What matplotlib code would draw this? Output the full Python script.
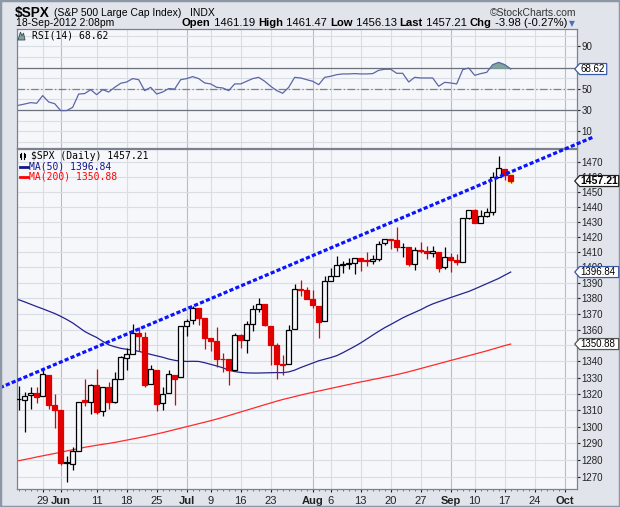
import numpy as np
import pandas as pd
import matplotlib
matplotlib.use('Agg')
import matplotlib.pyplot as plt
from matplotlib.patches import Polygon, Rectangle
from matplotlib.lines import Line2D
from matplotlib.transforms import IdentityTransform
from matplotlib.ticker import NullLocator

plt.rcParams['font.family'] = ['Liberation Sans', 'DejaVu Sans']

W, H = 620, 507

# trading days May 22 - Sep 18 2012 (83 bars), axis runs on to Oct 1
holidays = ['2012-05-28', '2012-07-04', '2012-09-03']
days = pd.bdate_range('2012-05-22', '2012-10-01')
days = days[~days.isin(pd.to_datetime(holidays))]

opens = [1317.0, 1316.0, 1319.1, 1320.8, 1318.9, 1331.3, 1313.1, 1309.9, 1278.3, 1277.8,
         1285.6, 1316.2, 1315.0, 1325.7, 1309.4, 1324.0, 1314.9, 1329.2, 1342.4, 1344.8,
         1358.0, 1355.4, 1325.9, 1334.9, 1314.1, 1320.7, 1331.5, 1330.1, 1362.3, 1365.8,
         1373.7, 1367.1, 1354.7, 1353.0, 1341.4, 1341.3, 1334.8, 1356.5, 1353.7, 1363.6,
         1373.0, 1376.5, 1362.3, 1350.5, 1338.4, 1338.2, 1360.1, 1385.9, 1385.3, 1379.3,
         1375.1, 1365.5, 1391.0, 1394.5, 1401.2, 1402.3, 1402.6, 1405.9, 1404.4, 1403.9,
         1405.6, 1415.8, 1417.9, 1418.1, 1413.1, 1413.5, 1402.0, 1411.1, 1410.4, 1409.3,
         1410.1, 1400.1, 1406.5, 1404.9, 1403.7, 1432.1, 1437.9, 1429.1, 1433.6, 1436.6,
         1460.1, 1465.4, 1461.2]
highs = [1324.5, 1321.0, 1324.1, 1324.2, 1334.9, 1331.3, 1319.7, 1309.9, 1282.6, 1287.6,
         1315.1, 1329.1, 1325.8, 1335.5, 1324.3, 1327.3, 1333.7, 1343.3, 1348.2, 1363.5,
         1361.6, 1358.3, 1337.8, 1334.9, 1324.2, 1334.4, 1331.5, 1362.2, 1366.4, 1374.8,
         1373.9, 1367.1, 1354.9, 1361.5, 1345.0, 1341.3, 1357.7, 1357.3, 1365.4, 1375.3,
         1380.4, 1376.5, 1362.3, 1351.5, 1344.0, 1363.1, 1389.2, 1391.7, 1387.2, 1385.0,
         1375.1, 1394.2, 1399.6, 1407.1, 1404.1, 1406.0, 1406.0, 1405.9, 1410.0, 1407.7,
         1417.4, 1418.7, 1418.1, 1426.7, 1416.1, 1413.5, 1413.5, 1416.2, 1413.6, 1414.0,
         1410.1, 1413.1, 1409.3, 1408.8, 1432.1, 1437.9, 1438.7, 1437.8, 1439.2, 1463.5,
         1474.5, 1465.6, 1461.5]
lows = [1310.0, 1296.5, 1310.5, 1314.2, 1318.9, 1310.8, 1298.9, 1277.3, 1266.7, 1274.2,
        1285.6, 1312.7, 1307.8, 1307.7, 1306.6, 1310.5, 1314.1, 1329.2, 1334.5, 1344.8,
        1346.5, 1324.4, 1325.9, 1309.3, 1310.3, 1320.7, 1313.3, 1330.1, 1355.7, 1363.5,
        1363.0, 1348.0, 1346.7, 1336.3, 1333.3, 1325.4, 1334.8, 1348.5, 1345.1, 1359.0,
        1371.2, 1362.2, 1337.6, 1329.2, 1331.5, 1338.2, 1360.1, 1381.4, 1379.2, 1373.4,
        1354.7, 1365.5, 1391.0, 1394.5, 1396.1, 1398.8, 1395.6, 1397.3, 1400.6, 1401.8,
        1404.2, 1414.7, 1412.1, 1410.9, 1406.8, 1400.5, 1398.0, 1409.1, 1405.6, 1406.6,
        1397.0, 1399.0, 1396.6, 1401.3, 1403.7, 1431.5, 1429.0, 1429.1, 1433.0, 1434.6,
        1460.1, 1457.6, 1456.1]
closes = [1316.6, 1318.9, 1320.7, 1317.8, 1332.4, 1313.3, 1310.3, 1278.0, 1278.2, 1285.5,
          1315.1, 1315.0, 1325.7, 1308.9, 1324.2, 1314.9, 1329.1, 1342.8, 1344.8, 1358.0,
          1355.7, 1325.5, 1335.0, 1313.7, 1320.0, 1331.9, 1329.0, 1362.2, 1365.5, 1374.0,
          1367.6, 1354.7, 1352.5, 1341.5, 1341.4, 1334.8, 1356.8, 1353.6, 1363.7, 1372.8,
          1376.5, 1362.7, 1350.5, 1338.3, 1337.9, 1360.0, 1386.0, 1385.3, 1379.3, 1375.3,
          1365.0, 1391.0, 1394.2, 1401.4, 1402.2, 1402.8, 1405.9, 1404.1, 1403.9, 1405.5,
          1415.5, 1418.2, 1418.1, 1413.2, 1413.5, 1402.1, 1411.1, 1410.4, 1409.3, 1410.5,
          1399.5, 1406.6, 1404.9, 1403.4, 1432.1, 1437.9, 1429.1, 1433.6, 1436.6, 1460.0,
          1465.8, 1461.2, 1457.2]

ma50 = [1379.0, 1377.6, 1376.1, 1374.6, 1373.2, 1371.7, 1370.2, 1368.4, 1366.4, 1364.2,
        1361.5, 1358.8, 1356.8, 1355.0, 1352.6, 1350.4, 1349.2, 1348.2, 1347.6, 1347.1,
        1346.3, 1345.4, 1344.4, 1343.5, 1342.6, 1341.5, 1340.7, 1340.2, 1340.0, 1340.1,
        1340.0, 1339.2, 1338.2, 1337.2, 1336.1, 1334.6, 1333.7, 1333.2, 1332.9, 1332.8,
        1332.8, 1332.9, 1333.0, 1333.1, 1333.0, 1333.5, 1334.6, 1336.2, 1337.6, 1339.0,
        1340.4, 1341.4, 1342.4, 1343.6, 1345.4, 1347.4, 1349.4, 1351.6, 1354.0, 1356.5,
        1358.9, 1361.2, 1363.2, 1365.3, 1367.4, 1369.2, 1370.9, 1372.6, 1374.6, 1376.3,
        1377.7, 1379.0, 1380.4, 1381.7, 1383.0, 1384.3, 1385.9, 1387.6, 1389.3, 1391.0,
        1392.7, 1394.8, 1396.84]
ma200 = [1279.6, 1280.3, 1281.0, 1281.8, 1282.5, 1283.2, 1283.9, 1284.6, 1285.4, 1286.1,
         1286.8, 1287.6, 1288.2, 1288.8, 1289.4, 1289.9, 1290.5, 1291.2, 1291.9, 1292.6,
         1293.3, 1294.0, 1294.8, 1295.6, 1296.4, 1297.3, 1298.2, 1299.1, 1300.0, 1300.9,
         1301.8, 1302.7, 1303.6, 1304.6, 1305.6, 1306.7, 1307.8, 1308.9, 1310.0, 1311.1,
         1312.2, 1313.3, 1314.4, 1315.5, 1316.5, 1317.4, 1318.3, 1319.2, 1320.1, 1320.9,
         1321.7, 1322.5, 1323.3, 1324.1, 1324.9, 1325.7, 1326.5, 1327.3, 1328.0, 1328.8,
         1329.5, 1330.3, 1331.0, 1331.8, 1332.7, 1333.6, 1334.6, 1335.6, 1336.6, 1337.6,
         1338.6, 1339.6, 1340.6, 1341.6, 1342.6, 1343.6, 1344.6, 1345.6, 1346.6, 1347.7,
         1348.8, 1349.9, 1350.88]
rsi = [34.5, 35.7, 37.0, 36.4, 43.6, 37.6, 36.0, 29.5, 29.5, 32.6,
       45.1, 45.5, 49.2, 44.5, 49.2, 47.0, 51.4, 55.2, 56.4, 59.6,
       58.6, 48.3, 51.4, 45.1, 47.0, 50.2, 49.8, 58.6, 59.6, 61.5,
       59.6, 55.5, 54.6, 51.4, 50.8, 48.3, 54.6, 54.6, 57.1, 59.6,
       60.8, 57.1, 52.4, 48.3, 45.8, 51.4, 60.8, 60.2, 58.6, 57.1,
       53.9, 60.8, 61.8, 63.3, 64.0, 64.0, 64.3, 64.0, 64.0, 64.3,
       67.4, 68.4, 68.4, 64.6, 64.6, 56.4, 60.8, 60.2, 60.2, 60.2,
       52.4, 56.1, 55.5, 54.6, 68.0, 69.6, 62.7, 64.3, 65.5, 72.7,
       74.9, 72.7, 68.62]

tick_dates = ['2012-05-29', '2012-06-01', '2012-06-11', '2012-06-18', '2012-06-25',
              '2012-07-02', '2012-07-09', '2012-07-16', '2012-07-23', '2012-08-01',
              '2012-08-06', '2012-08-13', '2012-08-20', '2012-08-27', '2012-09-04',
              '2012-09-10', '2012-09-17', '2012-09-24', '2012-10-01']
tick_labels = ['29', 'Jun', '11', '18', '25', 'Jul', '9', '16', '23', 'Aug',
               '6', '13', '20', '27', 'Sep', '10', '17', '24', 'Oct']
price_ticks = list(range(1270, 1480, 10))
rsi_ticks = [10, 30, 50, 70, 90]
# labels sitting fully under a price tag are not drawn
hidden_labels = [70, 1350]

RED = '#e00000'
BG = '#f6f7fb'
GRID = '#d9dde4'
GRID_M = '#b7bcc6'

n = len(closes)
x = np.arange(n)
tick_pos = [days.get_loc(pd.Timestamp(d)) for d in tick_dates]
months = [lab.isalpha() for lab in tick_labels]

fig = plt.figure(figsize=(W / 100, H / 100), dpi=100, facecolor='#e1e5eb')
ax_r = fig.add_axes([16.7 / W, 1 - 148 / H, 560 / W, (148 - 29.3) / H], facecolor=BG)
ax = fig.add_axes([16.7 / W, 1 - 489.3 / H, 560 / W, (489.3 - 149) / H], facecolor=BG)

xlim = (-0.33, 93.0)
for a in (ax_r, ax):
    a.set_xlim(*xlim)
    for s in a.spines.values():
        s.set_color('#7b828d')
        s.set_linewidth(0.9)
    for p, m in zip(tick_pos, months):
        a.axvline(p, color=GRID_M if m else GRID, lw=0.8, zorder=0)

# ---- RSI panel
ax_r.set_ylim(-5.7, 106)
for v in range(0, 101, 10):
    ax_r.axhline(v, color=GRID, lw=0.8, zorder=0)
ax_r.axhline(70, color='#6c727c', lw=0.9, zorder=1)
ax_r.axhline(30, color='#6c727c', lw=0.9, zorder=1)
ax_r.axhline(50, color='#7c818a', lw=0.9, ls=(0, (6, 2, 1, 2)), zorder=1)
rsi_a = np.array(rsi)
ax_r.fill_between(x, rsi_a, 70, where=rsi_a > 70, interpolate=True, color='#7fa59c', zorder=2)
ax_r.plot(x, rsi_a, color='#5b66a6', lw=0.9, zorder=3)
ax_r.set_xticks([])
ax_r.yaxis.tick_right()
ax_r.set_yticks(rsi_ticks, labels=['' if v in hidden_labels else str(v) for v in rsi_ticks])
ax_r.tick_params(axis='y', length=2.4, pad=1.2, labelsize=7, colors='#222222')

# ---- price panel
ax.set_yscale('log')
ax.set_ylim(1262.7, 1479.05)
for v in price_ticks:
    ax.axhline(v, color=GRID, lw=0.8, zorder=0)
ax.yaxis.tick_right()
ax.set_yticks(price_ticks, labels=['' if v in hidden_labels else str(v) for v in price_ticks])
ax.yaxis.set_minor_locator(NullLocator())
ax.tick_params(axis='y', length=2.4, pad=1.2, labelsize=7, colors='#222222')

ax.set_xticks(tick_pos, labels=tick_labels)
ax.set_xticks(np.arange(len(days)), minor=True)
ax.tick_params(axis='x', which='major', length=2.5, pad=2, labelsize=8, colors='#222222')
ax.tick_params(axis='x', which='minor', length=1.5, colors='#666666')
for lab, m in zip(ax.get_xticklabels(), months):
    if m:
        lab.set_fontweight('bold')

ax.plot(x, ma200, color='#ff2a2a', lw=0.9, zorder=2)
ax.plot(x, ma50, color='#23238c', lw=0.9, zorder=2)

# highlight on the latest bar
ax.add_patch(Rectangle((x[-1] - 0.55, lows[-1] - 1.0), 1.1, highs[-1] - lows[-1] + 2.0,
                       facecolor='#ffff70', edgecolor='none', zorder=2))

bw = 0.75
for i in range(n):
    o, h, l, c = opens[i], highs[i], lows[i], closes[i]
    prev = closes[i - 1] if i > 0 else c
    col = RED if c < prev else 'black'
    ax.vlines(x[i], l, h, color=col, lw=0.9, zorder=3)
    lo, hi = min(o, c), max(o, c)
    if hi - lo < 0.35:
        hi = lo + 0.35
    face = col if c < o else BG
    ax.add_patch(Rectangle((x[i] - bw / 2, lo), bw, hi - lo, facecolor=face,
                           edgecolor=col, lw=0.9, zorder=4))

# trend line through the May 29 and Jul 3 highs
a0, a1 = 4, 29
slope = np.log(highs[a1] / highs[a0]) / (a1 - a0)
tx = np.array([-3.12, 95.77])
ty = highs[a0] * np.exp(slope * (tx - a0))
ax.plot(tx, ty, color='#0a14ff', lw=2.3, ls=(0, (1.3, 0.7)), clip_on=False, zorder=6)


# ---- price tags on the right axis
def tag(a, value, text, edge, bold=False, size=7, width=44):
    yd = a.transData.transform((0, value))[1]
    x0 = a.transAxes.transform((1, 0))[0]
    hh = 5.5
    pts = [(x0 - 2, yd), (x0 + 3, yd + hh), (x0 - 2 + width, yd + hh),
           (x0 - 2 + width, yd - hh), (x0 + 3, yd - hh)]
    fig.add_artist(Polygon(pts, closed=True, transform=IdentityTransform(), facecolor='white',
                           edgecolor=edge, lw=0.9, zorder=5))
    fig.text((x0 + 4) / W, yd / H, text, fontsize=size, weight='bold' if bold else 'normal',
             va='center', ha='left', color='black', zorder=6)


tag(ax_r, rsi[-1], f'{rsi[-1]:.2f}', '#3b5aa8', width=32)
tag(ax, ma200[-1], f'{ma200[-1]:.2f}', '#555555')
tag(ax, ma50[-1], f'{ma50[-1]:.2f}', '#3b5aa8')
tag(ax, closes[-1], '1457.21', '#222222', bold=True, size=7.6)

# ---- legends
mono = ['DejaVu Sans Mono']
fig.text(31 / W, 1 - 156 / H, '$SPX (Daily) 1457.21', family=mono, fontsize=7, va='center')
fig.text(29 / W, 1 - 166.7 / H, 'MA(50) 1396.84', family=mono, fontsize=7, va='center',
         color='#14148c')
fig.text(29 / W, 1 - 176.7 / H, 'MA(200) 1350.88', family=mono, fontsize=7, va='center',
         color='#ff0000')
fig.add_artist(Line2D([20 / W, 28 / W], [1 - 166.7 / H] * 2, color='#14148c', lw=2))
fig.add_artist(Line2D([20 / W, 28 / W], [1 - 176.7 / H] * 2, color='#ff0000', lw=2))
for cx in (21, 24.5):
    fig.add_artist(Line2D([cx / W] * 2, [1 - 152.5 / H, 1 - 159.5 / H], color='black', lw=0.8))
    fig.add_artist(Rectangle(((cx - 1) / W, 1 - 158 / H), 2 / W, 4 / H, facecolor='black',
                             transform=fig.transFigure))
fig.text(31.6 / W, 1 - 36 / H, 'RSI(14) 68.62', family=mono, fontsize=7, va='center')
fig.add_artist(Polygon([(18 / W, 1 - 40 / H), (20.5 / W, 1 - 32 / H), (22 / W, 1 - 36 / H),
                        (23.5 / W, 1 - 33 / H), (25 / W, 1 - 40 / H)],
                       closed=True, transform=fig.transFigure, facecolor='#7fa59c',
                       edgecolor='#3c4a5a', lw=0.6))

# ---- header
fig.text(15 / W, 1 - 12.5 / H, '$SPX', fontsize=9.8, weight='bold', va='center')
fig.text(54 / W, 1 - 12.5 / H, '(S&P 500 Large Cap Index)', fontsize=7.5, va='center')
fig.text(190 / W, 1 - 12.5 / H, 'INDX', fontsize=7.5, va='center')
fig.text(16 / W, 1 - 23.5 / H, '18-Sep-2012 2:08pm', fontsize=7.5, va='center')
fig.text(576 / W, 1 - 12.5 / H, '\u00a9StockCharts.com', fontsize=7.5, ha='right', va='center',
         color='#333333')

quote = [('Open', True), (' 1461.19 ', False), ('High', True), (' 1461.47 ', False),
         ('Low', True), (' 1456.13 ', False), ('Last', True), (' 1457.21 ', False),
         ('Chg', True), (' -3.98 (-0.27%)', False)]
r = fig.canvas.get_renderer()
qx = 182
for s, b in quote:
    t = fig.text(qx / W, 1 - 23.5 / H, s, fontsize=8.1, weight='bold' if b else 'normal',
                 va='center')
    qx += t.get_window_extent(r).width
fig.text((qx + 2) / W, 1 - 24 / H, '\u25bc', family=['DejaVu Sans'], fontsize=5.5,
         color='#4a6fb5', va='center')

fig.add_artist(Rectangle((0, 0), 1, 1, transform=fig.transFigure, fill=False,
                         edgecolor='#8d97a6', lw=2.5))

fig.savefig('out.png', dpi=100, facecolor=fig.get_facecolor())
